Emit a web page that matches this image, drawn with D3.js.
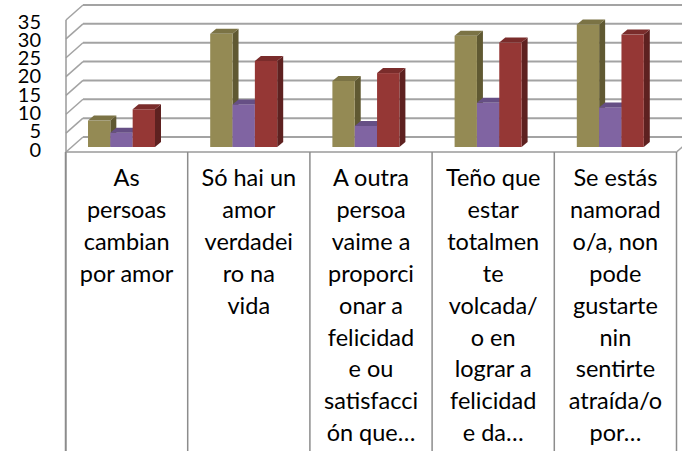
<!DOCTYPE html>
<html>
<head>
<meta charset="utf-8">
<script src="https://cdn.jsdelivr.net/npm/d3@7"></script>
<style>
  html, body { margin: 0; padding: 0; background: #fff; }
  svg { display: block; }
</style>
</head>
<body>
<svg id="chart" width="682" height="451"></svg>
<script>
// ---- data ----
const categories = [
  "As persoas cambian por amor",
  "Só hai un amor verdadeiro na vida",
  "A outra persoa vaime a proporcionar a felicidade ou satisfacción que…",
  "Teño que estar totalmente volcada/o en lograr a felicidade da…",
  "Se estás namorado/a, non pode gustarte nin sentirte atraída/o por…"
];
const categoryLines = [
  ["As", "persoas", "cambian", "por amor"],
  ["Só hai un", "amor", "verdadei", "ro na", "vida"],
  ["A outra", "persoa", "vaime a", "proporci", "onar a", "felicidad", "e ou", "satisfacci", "ón que…"],
  ["Teño que", "estar", "totalmen", "te", "volcada/", "o en", "lograr a", "felicidad", "e da…"],
  ["Se estás", "namorad", "o/a, non", "pode", "gustarte", "nin", "sentirte", "atraída/o", "por…"]
];
const seriesNames = ["Serie 1", "Serie 2", "Serie 3"];
const serie1 = [7, 30, 17.5, 29.5, 32.5];
const serie2 = [3.8, 11.3, 5.6, 11.7, 10.5];
const serie3 = [10, 22.8, 19.6, 27.7, 29.8];
const yTicks = [0, 5, 10, 15, 20, 25, 30, 35];

// ---- styles ----
const colors = {
  "Serie 1": { front: "#948A54", top: "#7B7345", side: "#605932" },
  "Serie 2": { front: "#8064A2", top: "#664F85", side: "#4F3C68" },
  "Serie 3": { front: "#953735", top: "#7A2C2B", side: "#5E2120" }
};

const svg = d3.select("#chart");
const seriesData = [serie1, serie2, serie3];

// scales
const yFront = d3.scaleLinear().domain([0, 35]).range([152, 20]);
const yLabel = d3.scaleLinear().domain([0, 35]).range([148.5, 20.5]);
const yBar = d3.scaleLinear().domain([0, 35]).range([147, 15]);
const x = d3.scaleBand().domain(categories).range([65.5, 676.5]).padding(0);
const xs = d3.scaleBand().domain(seriesNames).range([22.5, 89.5]).padding(0);

const wallDX = 17, wallDY = -15;
const barDX = 6, barDY = -5;
const gridColor = "#a3a3a3";

// back wall gridlines
const g = svg.append("g");
g.selectAll("line.back").data(yTicks).join("line")
  .attr("class", "back")
  .attr("x1", 66 + wallDX).attr("x2", 700)
  .attr("y1", d => yFront(d) + wallDY).attr("y2", d => yFront(d) + wallDY)
  .attr("stroke", gridColor).attr("stroke-width", 2);

// side wall diagonals
g.selectAll("line.side").data(yTicks).join("line")
  .attr("class", "side")
  .attr("x1", 66).attr("x2", 66 + wallDX)
  .attr("y1", d => yFront(d)).attr("y2", d => yFront(d) + wallDY)
  .attr("stroke", gridColor).attr("stroke-width", 1.5);

// left front edge of side wall + table left border
g.append("line")
  .attr("x1", 66).attr("x2", 66)
  .attr("y1", yFront(35)).attr("y2", 451)
  .attr("stroke", "#9a9a9a").attr("stroke-width", 1.5);

// floor front edge
g.append("line")
  .attr("x1", 66).attr("x2", 676.5)
  .attr("y1", yFront(0)).attr("y2", yFront(0))
  .attr("stroke", "#9a9a9a").attr("stroke-width", 1.5);
// floor right edge
g.append("line")
  .attr("x1", 676.5).attr("x2", 676.5 + wallDX)
  .attr("y1", yFront(0)).attr("y2", yFront(0) + wallDY)
  .attr("stroke", gridColor).attr("stroke-width", 1.5);

// table verticals
const bounds = categories.map(c => x(c)).concat([x(categories[categories.length - 1]) + x.bandwidth()]);
g.selectAll("line.tbl").data(bounds).join("line")
  .attr("class", "tbl")
  .attr("x1", d => d).attr("x2", d => d)
  .attr("y1", yFront(0)).attr("y2", 451)
  .attr("stroke", "#8c8c8c").attr("stroke-width", 1.5);

// y labels
svg.append("g").selectAll("text").data(yTicks).join("text")
  .attr("x", 41).attr("y", d => yLabel(d))
  .attr("text-anchor", "end").attr("dominant-baseline", "central")
  .attr("font-family", "Lato, 'Open Sans', sans-serif")
  .attr("font-size", 20)
  .attr("fill", "#000")
  .text(d => d);

// bars
const bars = svg.append("g");
categories.forEach((c, ci) => {
  seriesNames.forEach((s, si) => {
    const v = seriesData[si][ci];
    const x0 = x(c) + xs(s);
    const w = xs.bandwidth();
    const yt = yBar(v);
    const yb = yBar(0);
    const col = colors[s];
    const bg = bars.append("g");
    bg.append("polygon")
      .attr("points", [[x0 + w, yt], [x0 + w + barDX, yt + barDY], [x0 + w + barDX, yb + barDY], [x0 + w, yb]].map(p => p.join(",")).join(" "))
      .attr("fill", col.side);
    bg.append("rect")
      .attr("x", x0).attr("y", yt).attr("width", w).attr("height", yb - yt)
      .attr("fill", col.front);
    bg.append("polygon")
      .attr("points", [[x0, yt], [x0 + w, yt], [x0 + w + barDX, yt + barDY], [x0 + barDX, yt + barDY]].map(p => p.join(",")).join(" "))
      .attr("fill", col.top);
  });
});

// category labels
const lab = svg.append("g")
  .attr("font-family", "Lato, 'Open Sans', sans-serif")
  .attr("font-size", 23.5)
  .attr("fill", "#000")
  .attr("text-anchor", "middle");
categories.forEach((c, ci) => {
  lab.append("text")
    .selectAll("tspan").data(categoryLines[ci]).join("tspan")
    .attr("x", x(c) + x.bandwidth() / 2)
    .attr("y", (d, i) => 186 + i * 31.9)
    .text(d => d);
});
</script>
</body>
</html>
